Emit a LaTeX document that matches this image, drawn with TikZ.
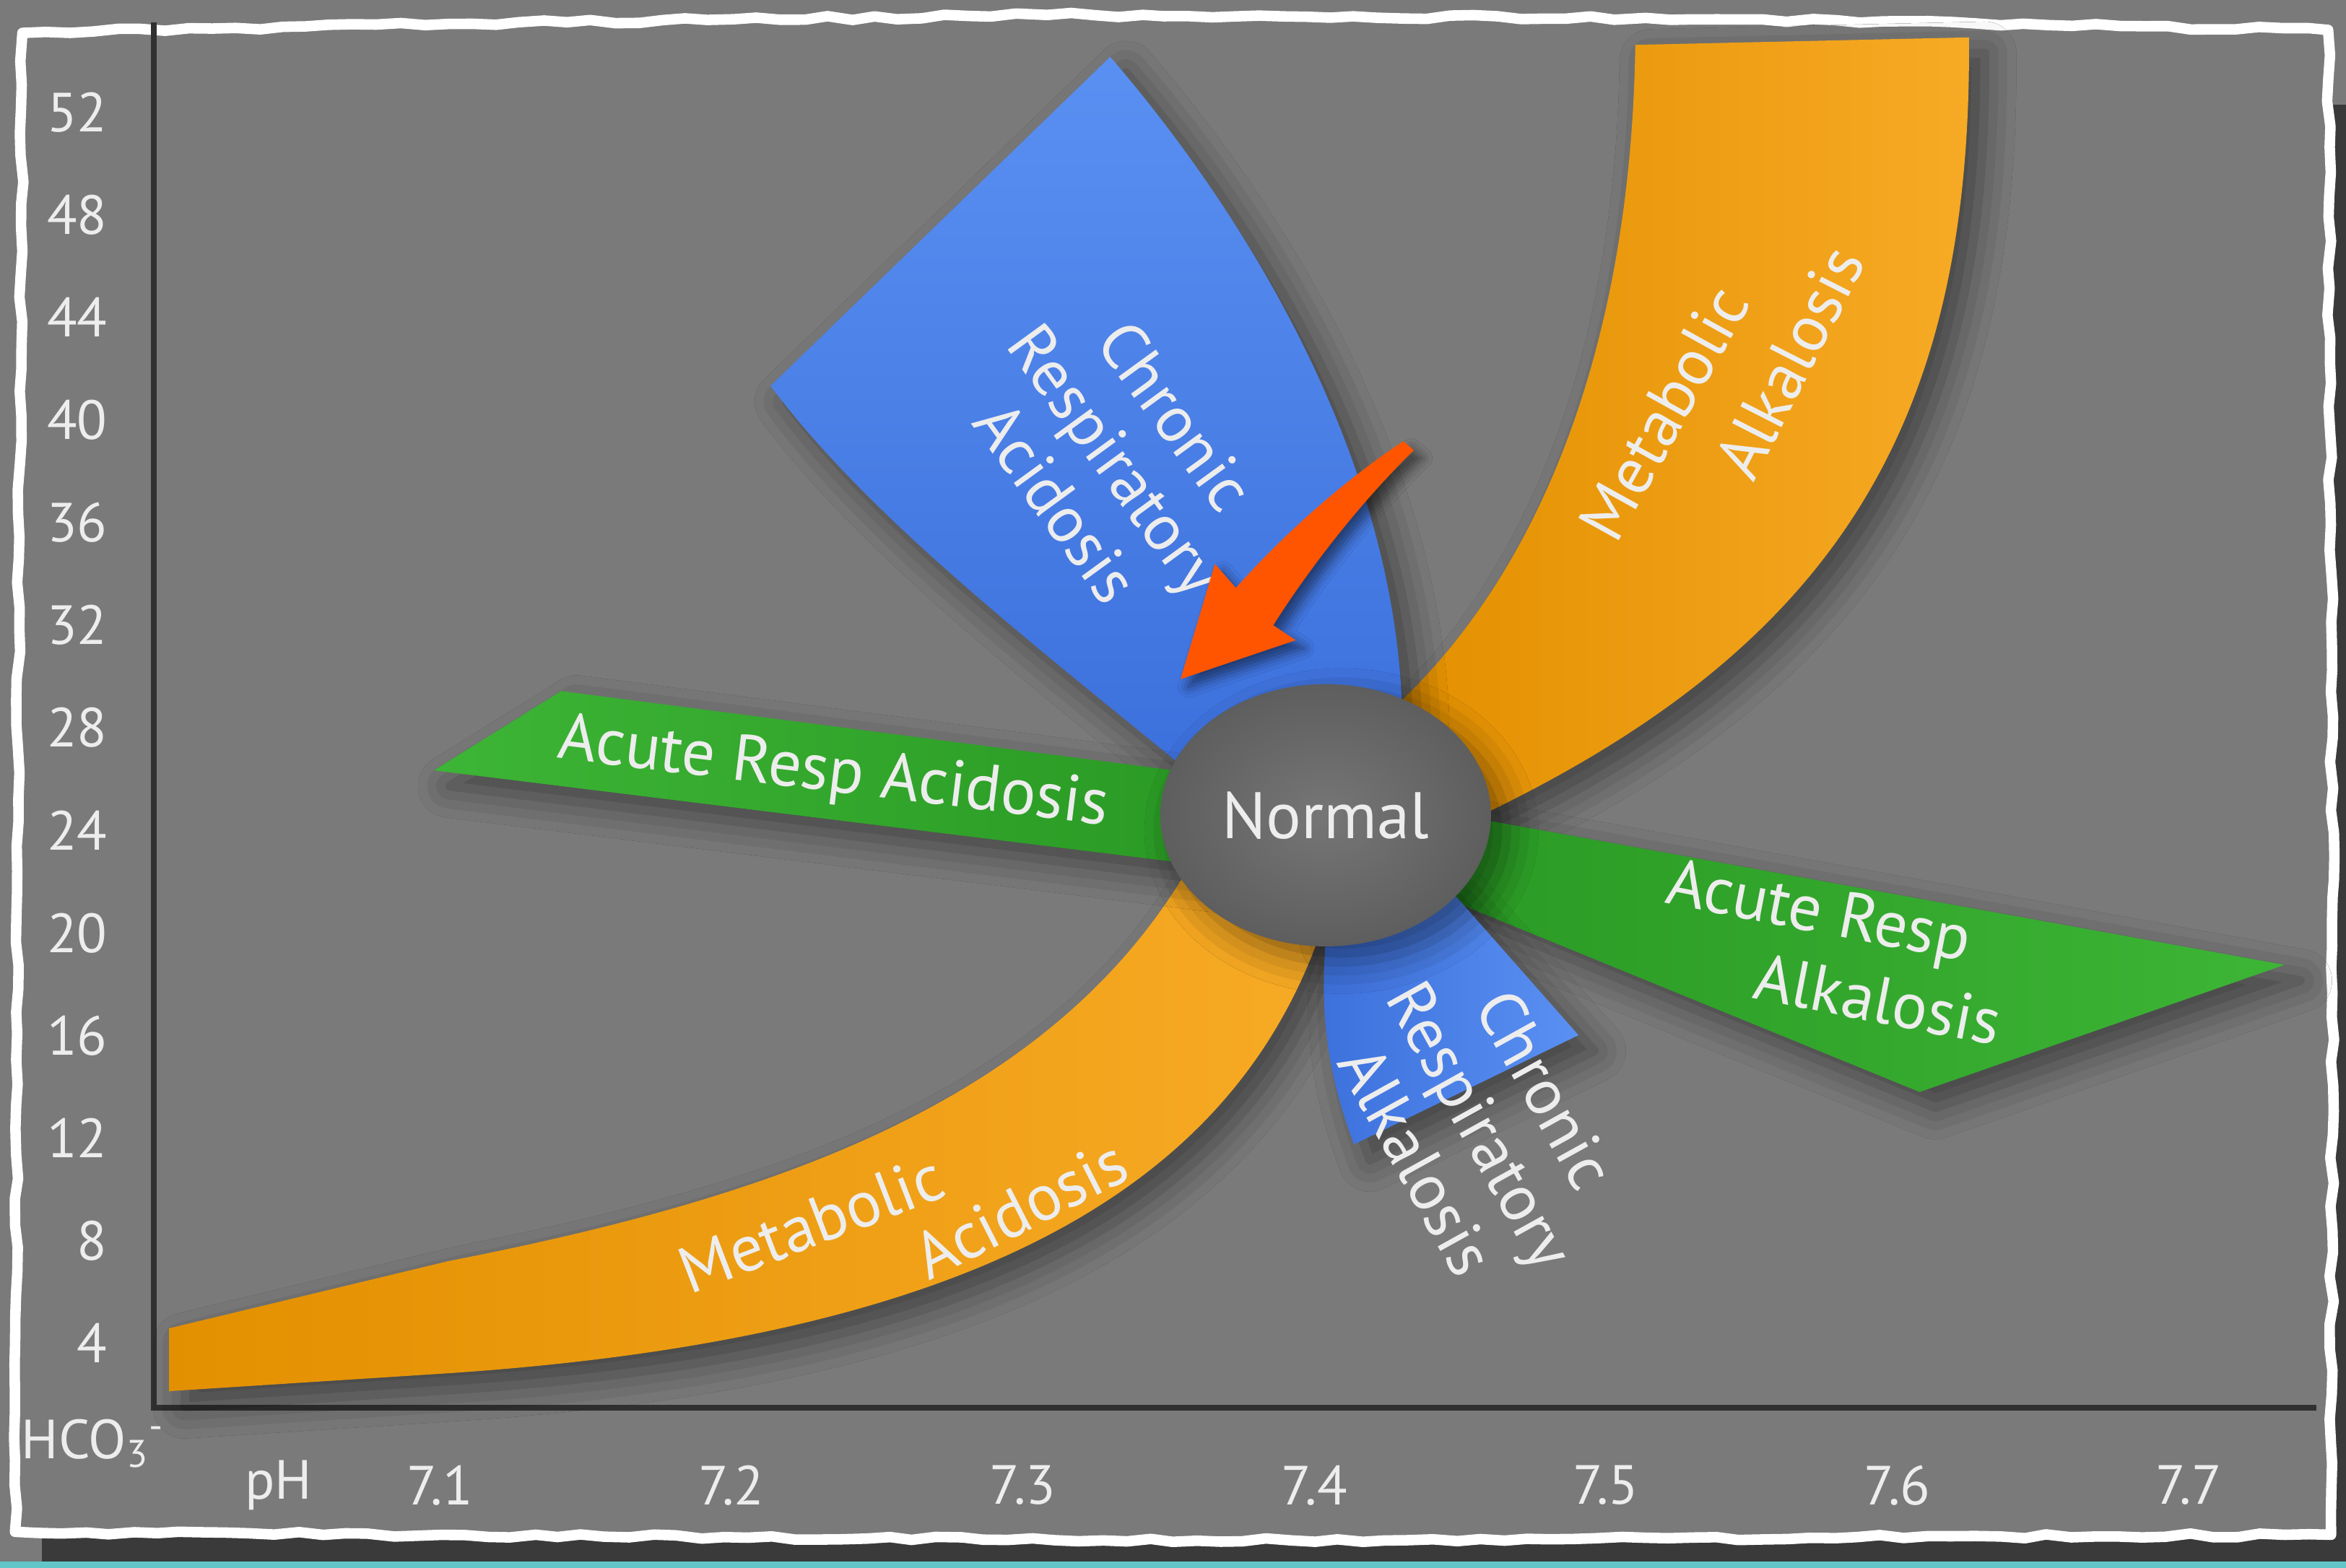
\documentclass[tikz,border=0pt]{standalone}
\usepackage{fontspec}
\setmainfont{PT Sans}
\usetikzlibrary{shapes.geometric,shadows.blur,decorations.pathmorphing}
\definecolor{bgc}{HTML}{7A7A7A}
\definecolor{axc}{HTML}{303030}
\definecolor{txc}{HTML}{EDEDED}
\definecolor{blueL}{HTML}{5A90F2}
\definecolor{blueD}{HTML}{3C70DC}
\definecolor{orL}{HTML}{F7AA25}
\definecolor{orD}{HTML}{E39000}
\definecolor{grL}{HTML}{3DB536}
\definecolor{grD}{HTML}{2A9A24}
\definecolor{arc}{HTML}{FF5500}
\definecolor{ellL}{HTML}{767676}
\definecolor{ellD}{HTML}{5E5E5E}
\definecolor{shd}{HTML}{3A3A3A}
\definecolor{tealc}{HTML}{62C6C8}
\begin{document}
\begin{tikzpicture}[x=0.02cm,y=-0.02cm,
  lbl/.style={text=txc, font=\fontsize{25}{28}\selectfont, align=center, inner sep=0pt},
  axlbl/.style={text=txc, font=\fontsize{21}{24}\selectfont, inner sep=0pt},
  sh/.style={blur shadow={shadow xshift=6pt, shadow yshift=-6pt, shadow blur radius=12pt, shadow opacity=45}},
  torn/.style={white, line width=4pt, line join=round, decorate, decoration={random steps, segment length=9pt, amplitude=0.8pt}}]
\pgfmathsetseed{7}
\useasboundingbox (0,0) rectangle (1568,1048);
\fill[bgc] (0,0) rectangle (1568,1048);
% outer shadow and strip
\fill[shd] (1540,70) -- (1568,70) -- (1568,1044) -- (28,1044) -- (28,1015) -- (1540,1015) -- cycle;
\fill[tealc] (0,1044) rectangle (1568,1048);
% paper
\fill[bgc] (15,22) -- (300,16) -- (700,10) -- (1100,12) -- (1556,20) -- (1559,600) -- (1558,1026) -- (800,1030) -- (10,1024) -- (12,500) -- cycle;
\draw[torn] (15,22) -- (300,16) -- (700,10) -- (1100,12) -- (1556,20) -- (1559,600) -- (1558,1026) -- (800,1030) -- (10,1024) -- (12,500) -- cycle;

% axes
\coordinate (ytop) at (103,15);
\coordinate (orig) at (103,941);
\coordinate (xend) at (1548,941);
\draw[axc, line width=2.2pt] (ytop) -- (orig) -- (xend);

% y labels
\foreach \v [count=\i from 0] in {52,48,44,40,36,32,28,24,20,16,12,8,4}
  \node[axlbl, anchor=east] (y\v) at (72,{75+68.58*\i}) {\v};
% x labels
\foreach \v [count=\i from 0] in {7.1,7.2,7.3,7.4,7.5,7.6,7.7}
  \node[axlbl] (x\i) at ({294+194.8*\i},993) {\v};
\node[axlbl] (ph) at (186,993) {pH};
\node[axlbl, anchor=west] (hco) at (14,965) {HCO\textsubscript{3}\textsuperscript{-}};

% Metabolic alkalosis
\path[sh, left color=orD, right color=orL] (1093,30) -- (1316,25) .. controls (1318,280) and (1230,430) .. (990,545) -- (940,520) -- (935,470) .. controls (1030,380) and (1090,230) .. (1093,30) -- cycle;
% Chronic respiratory acidosis
\path[sh, top color=blueL, bottom color=blueD] (742,38) .. controls (830,140) and (930,300) .. (937,470) -- (880,500) -- (790,512) .. controls (690,430) and (580,345) .. (515,258) -- cycle;
% Metabolic acidosis
\path[sh, left color=orD, right color=orL] (113,888) -- (300,843) .. controls (520,800) and (710,735) .. (800,570) -- (880,600) -- (882,625) .. controls (820,800) and (640,895) .. (300,918) -- (113,930) -- cycle;
% Acute resp acidosis
\path[sh, left color=grL, right color=grD] (290,515) -- (375,462) -- (800,517) -- (800,578) -- cycle;
% Acute resp alkalosis
\path[sh, left color=grD, right color=grL] (975,545) -- (1527,645) -- (1283,730) -- (960,598) -- cycle;
% Chronic resp alkalosis
\path[sh, left color=blueD, right color=blueL] (880,620) -- (965,590) -- (1055,692) -- (905,765) .. controls (888,720) and (882,680) .. (886,630) -- cycle;

% Normal
\node[ellipse, minimum width=125.8pt, minimum height=99.8pt, inner color=ellL, outer color=ellD, sh, text=txc, font=\fontsize{25}{27}\selectfont] (normal) at (886,545) {Normal};

% labels
\node[lbl, rotate=-54] (tcrac) at (746,307) {Chronic\\Respiratory\\Acidosis};
\node[lbl, rotate=61] (tmal1) at (1112,276) {Metabolic};
\node[lbl, rotate=63] (tmal2) at (1196,242) {Alkalosis};
\node[lbl, rotate=-7] (tarac) at (557,518) {Acute Resp Acidosis};
\node[lbl, rotate=-11] (taral1) at (1215,612) {Acute Resp};
\node[lbl, rotate=-11] (taral2) at (1255,668) {Alkalosis};
\node[lbl, rotate=21] (tmac1) at (542,818) {Metabolic};
\node[lbl, rotate=27] (tmac2) at (682,808) {Acidosis};
\node[lbl, rotate=-61] (tcral) at (990,752) {Chronic\\Respiratory\\Alkalosis};

% arrow
\fill[arc, blur shadow={shadow xshift=3pt, shadow yshift=-3pt, shadow blur radius=4pt, shadow opacity=50}] (789,454) -- (812,377) -- (826,393) .. controls (860,355) and (900,320) .. (938,295) -- (945,301) .. controls (910,335) and (875,380) .. (851,418) -- (866,428) -- cycle;
\end{tikzpicture}
\end{document}
